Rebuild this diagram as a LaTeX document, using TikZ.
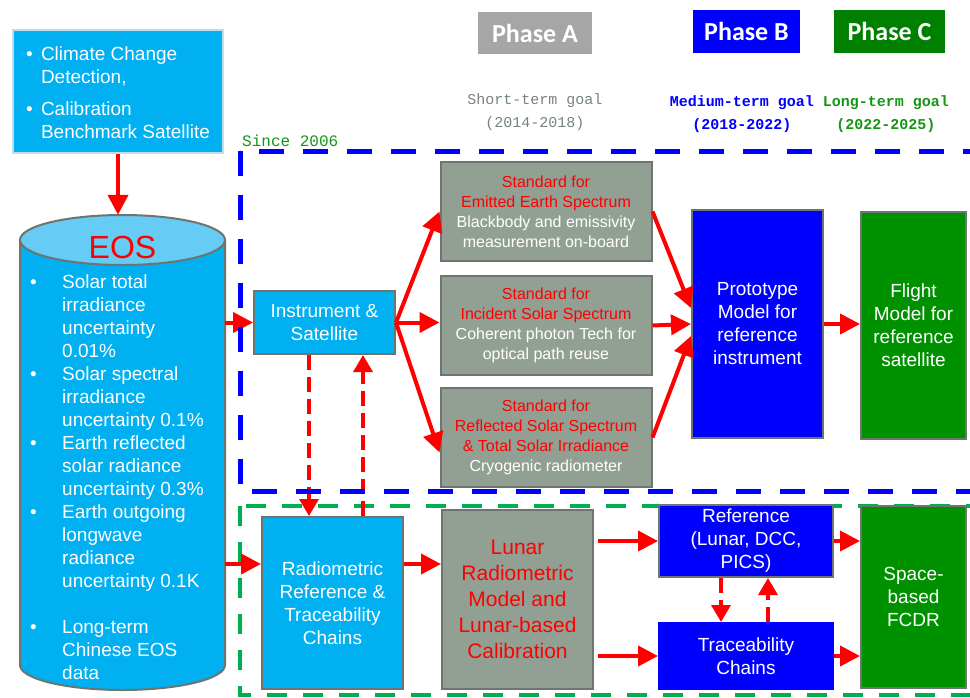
\documentclass[tikz,border=0pt]{standalone}
\usepackage{fontspec}
\setmainfont{Liberation Sans}
\newfontfamily\phasefont{Carlito}
\newfontfamily\goalfont{Liberation Mono}
\usetikzlibrary{arrows.meta}
\definecolor{skyfill}{RGB}{0,176,240}
\definecolor{skytop}{RGB}{102,204,245}
\definecolor{skyedge}{RGB}{190,222,232}
\definecolor{boxline}{RGB}{110,116,112}
\definecolor{stdfill}{RGB}{146,160,148}
\definecolor{phaseA}{RGB}{166,166,166}
\definecolor{phaseC}{RGB}{0,128,0}
\definecolor{flightfill}{RGB}{0,145,0}
\definecolor{shortgoal}{RGB}{118,132,120}
\definecolor{longgoal}{RGB}{20,150,20}
\definecolor{framegreen}{RGB}{0,176,80}
\newcommand{\fs}[2]{\fontsize{#1}{#2}\selectfont}
\newcommand{\stdtitle}[1]{\textcolor{red}{#1}}

\begin{document}
\begin{tikzpicture}[
  x=1pt, y=-1pt,
  box/.style={
    draw=boxline,
    line width=2pt,
    align=center,
    inner sep=0pt,
    text=white,
    font=\fs{19}{23}
  },
  sky/.style={box, fill=skyfill},
  std/.style={box, fill=stdfill, minimum width=211, minimum height=99, font=\fs{16}{20}},
  phase/.style={inner sep=0pt, text=white, minimum height=43, font=\phasefont\bfseries\fs{26}{30}},
  goal/.style={align=center, inner sep=0pt, font=\goalfont\fs{15}{23}},
  frameB/.style={draw=blue, line width=5pt, dash pattern=on 25pt off 19pt},
  frameG/.style={draw=framegreen, line width=4pt, dash pattern=on 20pt off 16pt},
  flow/.style={-{Triangle[length=20pt,width=20pt]}, draw=red, line width=4pt},
  back/.style={-{Triangle[length=17pt,width=19pt]}, draw=red, line width=3.5pt, dash pattern=on 15pt off 7pt}
]
\useasboundingbox (0,0) rectangle (970,697);

\draw[frameG] (240,506) rectangle (1000,695);

\node[phase, fill=phaseA, minimum width=114, minimum height=42] (phaseA) at (535,33) {Phase A};
\node[phase, fill=blue, minimum width=107] (phaseB) at (746.5,31.5) {Phase B};
\node[phase, fill=phaseC, minimum width=111] (phaseC) at (889.5,31.5) {Phase C};

\node[goal, text=shortgoal] (short) at (535,112.5) {Short-term goal\\(2014-2018)};
\node[goal, text=blue, font=\goalfont\bfseries\fs{15}{23}] (medium) at (742,114.5) {Medium-term goal\\(2018-2022)};
\node[goal, text=longgoal, font=\goalfont\bfseries\fs{15}{23}] (long) at (886,114.5) {Long-term goal\\(2022-2025)};
\node[anchor=south west, inner sep=0pt, text=longgoal, font=\goalfont\fs{16}{18}] (since) at (242,147) {Since 2006};

\node[sky, draw=skyedge, minimum width=210, minimum height=123] (mission) at (118,91.5) {%
  \raisebox{-3pt}[\height][\depth]{\begin{tabular}{@{}p{15pt}@{}l@{}}
  \textbullet & Climate Change\\ & Detection,\\[9pt]
  \textbullet & Calibration\\ & Benchmark Satellite
  \end{tabular}}};

\node[minimum width=205, minimum height=475, inner sep=0pt] (eos) at (122.5,452.5) {};
\filldraw[fill=skyfill, draw=boxline, line width=2pt] (20,240) -- (20,665)
  arc[start angle=180, end angle=360, x radius=102.5pt, y radius=25pt] -- (225,240) -- cycle;
\filldraw[fill=skytop, draw=boxline, line width=2pt] (122.5,240) ellipse[x radius=102.5pt, y radius=25pt];
\node[text=red, inner sep=0pt, font=\fs{32}{36}] (eoslabel) at (122.5,247) {EOS};
\node[anchor=north west, inner sep=0pt, text=white, font=\fs{19}{23}] (eoslist) at (30,272) {%
  \begin{tabular}{@{}p{32pt}@{}l@{}}
  \textbullet & Solar total\\ & irradiance\\ & uncertainty\\ & 0.01\%\\
  \textbullet & Solar spectral\\ & irradiance\\ & uncertainty 0.1\%\\
  \textbullet & Earth reflected\\ & solar radiance\\ & uncertainty 0.3\%\\
  \textbullet & Earth outgoing\\ & longwave\\ & radiance\\ & uncertainty 0.1K\\
  & \\
  \textbullet & Long-term\\ & Chinese EOS\\ & data
  \end{tabular}};

\node[sky, minimum width=141, minimum height=63] (inst) at (324.5,322.5) {Instrument \&\\Satellite};
\node[std] (std1) at (546,211.5) {\stdtitle{Standard for}\\\stdtitle{Emitted Earth Spectrum}\\Blackbody and emissivity\\measurement on-board};
\node[std] (std2) at (546,325.5) {\stdtitle{Standard for}\\\stdtitle{Incident Solar Spectrum}\\Coherent photon Tech for\\optical path reuse};
\node[std] (std3) at (546,437.5) {\stdtitle{Standard for}\\\stdtitle{Reflected Solar Spectrum}\\\stdtitle{\& Total Solar Irradiance}\\Cryogenic radiometer};
\node[box, fill=blue, minimum width=131, minimum height=228] (proto) at (757.5,324) {Prototype\\Model for\\reference\\instrument};
\node[box, fill=flightfill, minimum width=105, minimum height=227] (flight) at (913.5,325.5) {Flight\\Model for\\reference\\satellite};

\node[sky, minimum width=141, minimum height=172] (radio) at (332.5,603) {Radiometric\\Reference \&\\Traceability\\Chains};
\node[box, fill=stdfill, text=red, minimum width=151, minimum height=179, font=\fs{21}{26}] (lunar) at (517.5,599.5) {Lunar\\Radiometric\\Model and\\Lunar-based\\Calibration};
\node[box, fill=blue, minimum width=174, minimum height=72] (ref) at (746,541) {Reference\\(Lunar, DCC,\\PICS)};
\node[box, fill=blue, draw=blue, minimum width=174, minimum height=66] (trace) at (746,656) {Traceability\\Chains};
\node[box, fill=flightfill, minimum width=105, minimum height=182] (fcdr) at (913.5,597) {Space-\\based\\FCDR};

\draw[flow] (mission.south) -- (mission.south |- eos.north);
\draw[flow] (eos.east |- inst.west) -- (inst.west);
\coordinate (radioin) at ([yshift=39pt]radio.west);
\draw[flow] (eos.east |- radioin) -- (radioin);

\draw[flow] (inst.east) -- (std1.west);
\draw[flow] (inst.east) -- (std2.west |- inst.east);
\draw[flow] (inst.east) -- ([yshift=-15pt]std3.west);
\draw[flow] (std1.east) -- ([yshift=16pt]proto.west);
\draw[flow] (std2.east) -- (proto.west);
\draw[flow] (std3.east) -- ([yshift=-12pt]proto.west);
\draw[flow] (proto.east) -- (flight.west |- proto.east);

\coordinate (instdn) at ([xshift=-15.5pt]inst.south);
\coordinate (instup) at ([xshift=38.5pt]inst.south);
\draw[back] (instdn) -- (instdn |- radio.north);
\draw[back] (instup |- radio.north) -- (instup);

\draw[flow] (radioin -| radio.east) -- (radioin -| lunar.west);
\draw[flow, shorten <=4pt] (lunar.east |- ref.west) -- (ref.west);
\draw[flow, shorten <=4pt] (lunar.east |- trace.west) -- (trace.west);
\draw[flow] (ref.east) -- (fcdr.west |- ref.east);
\draw[flow] (trace.east) -- (fcdr.west |- trace.east);

\coordinate (refdn) at ([xshift=-25pt]ref.south);
\coordinate (refup) at ([xshift=22pt]ref.south);
\draw[back] (refdn) -- (refdn |- trace.north);
\draw[back] (refup |- trace.north) -- (refup);

\draw[frameB] (240,151) rectangle (1000,491);

\end{tikzpicture}
\end{document}
